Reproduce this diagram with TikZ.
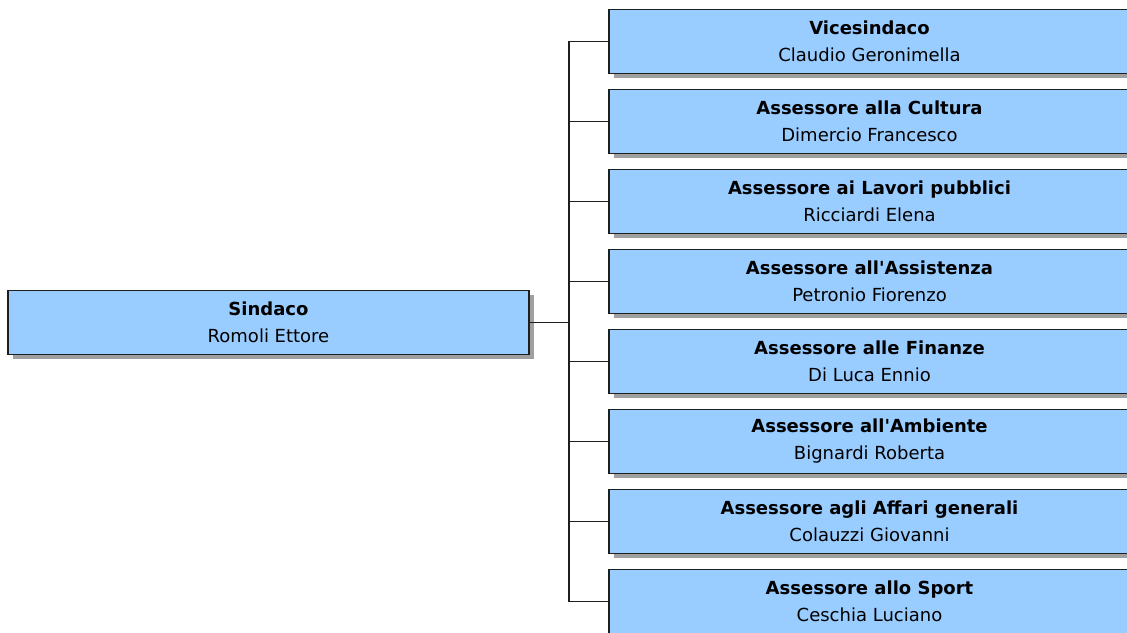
\documentclass[tikz,border=0pt]{standalone}
\usepackage{fontspec}
\setmainfont{DejaVu Sans}
\usetikzlibrary{shadows}
\definecolor{boxblue}{HTML}{99CCFF}
\definecolor{boxline}{HTML}{1E1E1E}
\definecolor{shadowgray}{HTML}{A0A0A0}
\tikzset{
  orgbox/.style={draw=boxline, line width=1.5pt, fill=boxblue, minimum width=521pt, minimum height=64pt,
    inner sep=0pt, align=center, font=\fontsize{18}{27}\selectfont,
    drop shadow={shadow xshift=4.5pt, shadow yshift=-4.5pt, fill=shadowgray, opacity=1}},
  conn/.style={draw=boxline, line width=1.5pt}
}
\newcommand{\rolename}[1]{{\bfseries #1}}
\begin{document}
\begin{tikzpicture}[x=1pt,y=-1pt]
\useasboundingbox (0,0) rectangle (1127,632);
\clip (0,0) rectangle (1127,632);
\node[orgbox] (s) at (268.5,322.5) {\rolename{Sindaco}\\Romoli Ettore};
\node[orgbox] (b0) at (869.5,41.5) {\rolename{Vicesindaco}\\Claudio Geronimella};
\node[orgbox] (b1) at (869.5,121.5) {\rolename{Assessore alla Cultura}\\Dimercio Francesco};
\node[orgbox] (b2) at (869.5,201.5) {\rolename{Assessore ai Lavori pubblici}\\Ricciardi Elena};
\node[orgbox] (b3) at (869.5,281.5) {\rolename{Assessore all\textquotesingle Assistenza}\\Petronio Fiorenzo};
\node[orgbox] (b4) at (869.5,361.5) {\rolename{Assessore alle Finanze}\\Di Luca Ennio};
\node[orgbox] (b5) at (869.5,441.5) {\rolename{Assessore all\textquotesingle Ambiente}\\Bignardi Roberta};
\node[orgbox] (b6) at (869.5,521.5) {\rolename{Assessore agli Affari generali}\\Colauzzi Giovanni};
\node[orgbox] (b7) at (869.5,601.5) {\rolename{Assessore allo Sport}\\Ceschia Luciano};
\coordinate (j) at (569,322.5);
\draw[conn] (s.east) -- (j);
\foreach \k in {0,...,7} { \draw[conn] (j) |- (b\k.west); }
\end{tikzpicture}
\end{document}
